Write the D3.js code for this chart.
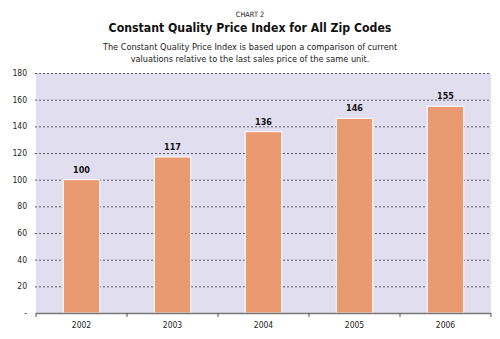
<!DOCTYPE html>
<html>
<head>
<meta charset="utf-8">
<script src="https://cdn.jsdelivr.net/npm/d3@7"></script>
<style>
  body { margin: 0; background: #fff; }
  svg { display: block; font-family: "DejaVu Sans Condensed", "DejaVu Sans", sans-serif; }
</style>
</head>
<body>
<svg id="chart" width="500" height="339"></svg>
<script>
var years = ["2002", "2003", "2004", "2005", "2006"]
var index = [100, 117, 136, 146, 155]
var yTicks = [0, 20, 40, 60, 80, 100, 120, 140, 160, 180]

var svg = d3.select("#chart")
var plotLeft = 36, plotRight = 491, plotTop = 73, plotBottom = 313

var x = d3.scaleBand().domain(years).range([plotLeft, plotRight]).paddingInner(0.6).paddingOuter(0.3)
var xb = d3.scaleBand().domain(years).range([plotLeft, plotRight])
var y = d3.scaleLinear().domain([0, 180]).range([plotBottom, plotTop])

// titles
svg.append("text").attr("x", 250).attr("y", 17).attr("text-anchor", "middle")
  .attr("font-size", 7.3).attr("fill", "#222").text("CHART 2")
svg.append("text").attr("x", 250).attr("y", 32).attr("text-anchor", "middle")
  .attr("font-size", 12.2).attr("font-weight", "bold").attr("fill", "#111")
  .text("Constant Quality Price Index for All Zip Codes")
svg.append("text").attr("x", 250).attr("y", 50).attr("text-anchor", "middle")
  .attr("font-size", 9.1).attr("fill", "#222")
  .text("The Constant Quality Price Index is based upon a comparison of current")
svg.append("text").attr("x", 250).attr("y", 62).attr("text-anchor", "middle")
  .attr("font-size", 9.1).attr("fill", "#222")
  .text("valuations relative to the last sales price of the same unit.")

// plot background
svg.append("rect").attr("x", plotLeft).attr("y", plotTop)
  .attr("width", plotRight - plotLeft).attr("height", plotBottom - plotTop)
  .attr("fill", "#e1def0")

// gridlines
svg.append("g").selectAll("line").data(yTicks.filter(function(d){ return d > 0 })).enter().append("line")
  .attr("x1", plotLeft - 1).attr("x2", plotRight)
  .attr("y1", function(d){ return y(d) + 0.5 }).attr("y2", function(d){ return y(d) + 0.5 })
  .attr("stroke", "#5a5a66").attr("stroke-dasharray", "2,2").attr("stroke-width", 1)

// y labels, zero shown as a dash
svg.append("g").selectAll("text").data(yTicks).enter().append("text")
  .attr("x", 27).attr("y", function(d){ return y(d) + 3 })
  .attr("text-anchor", "end").attr("font-size", 8.5).attr("fill", "#222")
  .text(function(d){ return d == 0 ? "-" : d })

// bars
svg.append("g").selectAll("rect").data(index).enter().append("rect")
  .attr("x", function(d, i){ return x(years[i]) })
  .attr("y", function(d){ return y(d) })
  .attr("width", x.bandwidth())
  .attr("height", function(d){ return plotBottom - y(d) })
  .attr("fill", "#e99a71").attr("stroke", "#fff").attr("stroke-width", 1)

// value labels
svg.append("g").selectAll("text").data(index).enter().append("text")
  .attr("x", function(d, i){ return x(years[i]) + x.bandwidth() / 2 })
  .attr("y", function(d){ return y(d) - 7 })
  .attr("text-anchor", "middle").attr("font-size", 9).attr("font-weight", "bold").attr("fill", "#111")
  .text(function(d){ return d })

// x axis line and ticks between categories
svg.append("line").attr("x1", plotLeft).attr("x2", plotRight)
  .attr("y1", plotBottom + 0.5).attr("y2", plotBottom + 0.5)
  .attr("stroke", "#777").attr("stroke-width", 1.5)
var bounds = years.map(function(d){ return xb(d) }).concat([plotRight])
svg.append("g").selectAll("line").data(bounds).enter().append("line")
  .attr("x1", function(d){ return d }).attr("x2", function(d){ return d })
  .attr("y1", plotBottom).attr("y2", plotBottom + 4)
  .attr("stroke", "#555").attr("stroke-width", 1)

svg.append("g").selectAll("text").data(years).enter().append("text")
  .attr("x", function(d){ return x(d) + x.bandwidth() / 2 })
  .attr("y", 328).attr("text-anchor", "middle").attr("font-size", 8.5).attr("fill", "#222")
  .text(function(d){ return d })
</script>
</body>
</html>
